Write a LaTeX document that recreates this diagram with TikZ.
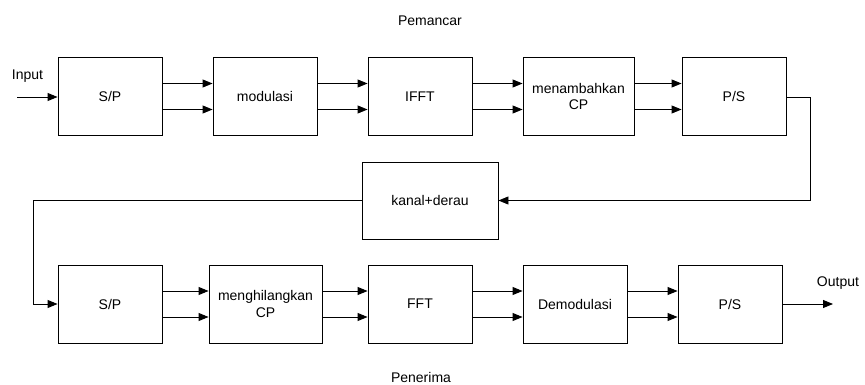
\documentclass[tikz,border=0pt]{standalone}
\usepackage{fontspec}
\setmainfont{Liberation Sans}
\usetikzlibrary{arrows.meta}
\begin{document}
\begin{tikzpicture}[x=1pt,y=-1pt,
  font=\fontsize{14}{16.5}\selectfont,
  block/.style={draw=black,line width=0.9pt,minimum height=78pt,inner sep=1pt,align=center},
  link/.style={draw=black,line width=0.9pt,-{Triangle[length=10pt,width=8pt]}},
  wire/.style={draw=black,line width=0.9pt}]
\useasboundingbox (0,0) rectangle (865,385);

% transmitter chain
\node[block,minimum width=104pt] (tsp)  at (110,96.5) {S/P};
\node[block,minimum width=104pt] (tmod) at (265,96.5) {modulasi};
\node[block,minimum width=104pt] (tifft) at (420,96.5) {IFFT};
\node[block,minimum width=111pt] (tcp)  at (578.5,96.5) {menambahkan\\CP};
\node[block,minimum width=104pt] (tps)  at (734,96.5) {P/S};
\node (ltx) at (430,21) {Pemancar};

% channel
\node[block,minimum width=136pt,minimum height=77pt] (ch) at (430,200.5) {kanal+derau};

% receiver chain
\node[block,minimum width=104pt] (rsp)  at (110,304) {S/P};
\node[block,minimum width=113pt] (rcp)  at (265.5,304) {menghilangkan\\CP};
\node[block,minimum width=104pt] (rfft) at (420,304) {FFT};
\node[block,minimum width=104pt] (rdem) at (575,304) {Demodulasi};
\node[block,minimum width=104pt] (rps)  at (730,304) {P/S};
\node (lrx) at (421,377) {Penerima};

% input and output
\coordinate (in) at (17,97);
\coordinate (out) at (833,304);
\node (lin) at (27.5,76) {Input};
\node (lout) at (838,283) {Output};
\draw[link] (in) -- (tsp.west |- in);
\draw[link] (rps.east) -- (out);

% parallel branches between blocks
\foreach \a/\b in {tsp/tmod,tmod/tifft,tifft/tcp,tcp/tps,rsp/rcp,rcp/rfft,rfft/rdem,rdem/rps}{
  \draw[link] ([yshift=13pt]\a.east) -- ([yshift=13pt]\b.west);
  \draw[link] ([yshift=-13pt]\a.east) -- ([yshift=-13pt]\b.west);
}

% loop through the channel
\coordinate (tr) at (810,97);
\coordinate (bl) at (33,304);
\draw[link] (tps.east |- tr) -- (tr) -- (tr |- ch.east) -- (ch.east);
\draw[link] (ch.west) -- (bl |- ch.west) -- (bl) -- (rsp.west);
\end{tikzpicture}
\end{document}
